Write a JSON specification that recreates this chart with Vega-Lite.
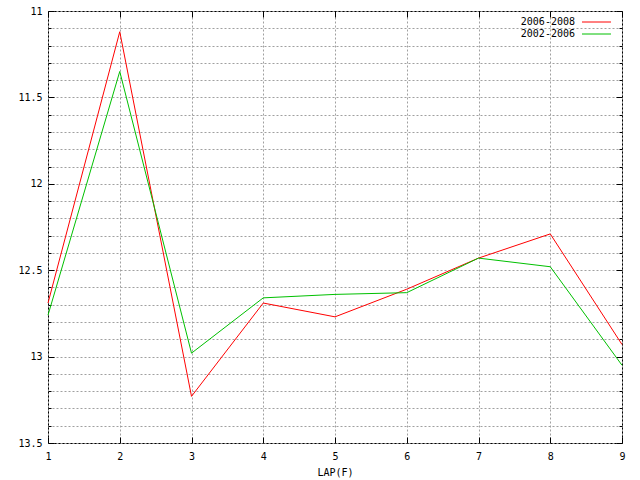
{
  "$schema": "https://vega.github.io/schema/vega-lite/v6.json",
  "width": 574,
  "height": 432,
  "autosize": {"type": "none"},
  "padding": {"left": 48, "top": 11, "right": 18, "bottom": 37},
  "background": "white",
  "config": {
    "view": {"stroke": "black", "strokeWidth": 1},
    "axis": {
      "labelFont": "DejaVu Sans Mono",
      "labelFontSize": 10,
      "labelColor": "black",
      "titleFont": "DejaVu Sans Mono",
      "titleFontSize": 10,
      "titleFontWeight": "normal",
      "titleColor": "black",
      "tickColor": "black",
      "domain": false
    }
  },
  "data": {
    "values": [
      {"lap": 1, "time": 12.69, "period": "2006-2008"},
      {"lap": 2, "time": 11.12, "period": "2006-2008"},
      {"lap": 3, "time": 13.23, "period": "2006-2008"},
      {"lap": 4, "time": 12.69, "period": "2006-2008"},
      {"lap": 5, "time": 12.77, "period": "2006-2008"},
      {"lap": 6, "time": 12.61, "period": "2006-2008"},
      {"lap": 7, "time": 12.43, "period": "2006-2008"},
      {"lap": 8, "time": 12.29, "period": "2006-2008"},
      {"lap": 9, "time": 12.93, "period": "2006-2008"},
      {"lap": 1, "time": 12.76, "period": "2002-2006"},
      {"lap": 2, "time": 11.35, "period": "2002-2006"},
      {"lap": 3, "time": 12.98, "period": "2002-2006"},
      {"lap": 4, "time": 12.66, "period": "2002-2006"},
      {"lap": 5, "time": 12.64, "period": "2002-2006"},
      {"lap": 6, "time": 12.63, "period": "2002-2006"},
      {"lap": 7, "time": 12.43, "period": "2002-2006"},
      {"lap": 8, "time": 12.48, "period": "2002-2006"},
      {"lap": 9, "time": 13.05, "period": "2002-2006"}
    ]
  },
  "layer": [
    {
      "mark": {"type": "line", "strokeWidth": 1},
      "encoding": {
        "x": {
          "field": "lap",
          "type": "quantitative",
          "scale": {"domain": [1, 9], "nice": false, "zero": false},
          "axis": {
            "orient": "bottom",
            "values": [1, 2, 3, 4, 5, 6, 7, 8, 9],
            "format": "d",
            "grid": true,
            "gridDash": [2, 2],
            "gridColor": "#a0a0a0",
            "gridOpacity": 1,
            "tickSize": -6,
            "labelPadding": 14,
            "labelFlush": false,
            "title": "LAP(F)",
            "titlePadding": 6
          }
        },
        "y": {
          "field": "time",
          "type": "quantitative",
          "scale": {"domain": [11, 13.5], "reverse": true, "nice": false, "zero": false},
          "axis": {
            "orient": "left",
            "values": [11, 11.1, 11.2, 11.3, 11.4, 11.5, 11.6, 11.7, 11.8, 11.9, 12, 12.1, 12.2, 12.3, 12.4, 12.5, 12.6, 12.7, 12.8, 12.9, 13, 13.1, 13.2, 13.3, 13.4, 13.5],
            "grid": true,
            "gridDash": [2, 2],
            "gridColor": "#a0a0a0",
            "gridOpacity": 1,
            "labelExpr": "abs(datum.value*2 - round(datum.value*2)) < 0.001 ? format(datum.value, '~g') : ''",
            "tickSize": {"condition": {"test": "abs(datum.value*2 - round(datum.value*2)) < 0.001", "value": -6}, "value": -3},
            "labelPadding": 12,
            "labelFlush": false,
            "title": null
          }
        },
        "color": {
          "field": "period",
          "type": "nominal",
          "sort": ["2006-2008", "2002-2006"],
          "scale": {"domain": ["2006-2008", "2002-2006"], "range": ["#ff0000", "#00c000"]},
          "legend": {
            "orient": "none",
            "legendX": 542.5,
            "legendY": 5,
            "title": null,
            "symbolType": "M-2.636,0H2.636",
            "symbolSize": 121,
            "symbolStrokeWidth": 1,
            "rowPadding": 1,
            "padding": 0,
            "labelAlign": "right",
            "labelOffset": -27.5,
            "labelFont": "DejaVu Sans Mono",
            "labelFontSize": 10,
            "labelColor": "black"
          }
        }
      }
    },
    {
      "mark": {"type": "point", "opacity": 0},
      "encoding": {
        "x": {
          "field": "lap",
          "type": "quantitative",
          "axis": {
            "orient": "top",
            "values": [1, 2, 3, 4, 5, 6, 7, 8, 9],
            "grid": false,
            "labels": false,
            "tickSize": -6,
            "title": null
          }
        },
        "y": {
          "field": "time",
          "type": "quantitative",
          "axis": {
            "orient": "right",
            "values": [11, 11.1, 11.2, 11.3, 11.4, 11.5, 11.6, 11.7, 11.8, 11.9, 12, 12.1, 12.2, 12.3, 12.4, 12.5, 12.6, 12.7, 12.8, 12.9, 13, 13.1, 13.2, 13.3, 13.4, 13.5],
            "grid": false,
            "labels": false,
            "tickSize": {"condition": {"test": "abs(datum.value*2 - round(datum.value*2)) < 0.001", "value": -6}, "value": -3},
            "title": null
          }
        }
      }
    }
  ],
  "resolve": {"axis": {"x": "independent", "y": "independent"}}
}
